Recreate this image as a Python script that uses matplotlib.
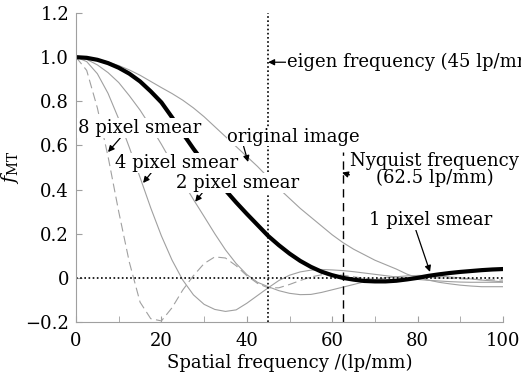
import matplotlib
matplotlib.use("Agg")
import matplotlib.pyplot as plt
from matplotlib.ticker import MultipleLocator

plt.rcParams['font.family'] = ['DejaVu Serif']
plt.rcParams['mathtext.fontset'] = 'dejavuserif'

# spatial frequency grid (lp/mm), 2.5 lp/mm steps
freq = [0, 2.5, 5, 7.5, 10, 12.5, 15, 17.5, 20, 22.5, 25, 27.5, 30, 32.5, 35, 37.5,
        40, 42.5, 45, 47.5, 50, 52.5, 55, 57.5, 60, 62.5, 65, 67.5, 70, 72.5, 75,
        77.5, 80, 82.5, 85, 87.5, 90, 92.5, 95, 97.5, 100]

# MTF curves
mtf_original = [1.0, 0.998, 0.99, 0.978, 0.962, 0.942, 0.918, 0.89, 0.862, 0.835,
                0.805, 0.77, 0.73, 0.685, 0.64, 0.595, 0.55, 0.505, 0.455, 0.405,
                0.36, 0.315, 0.275, 0.235, 0.195, 0.16, 0.13, 0.105, 0.08, 0.06,
                0.04, 0.017, 0.0, -0.01, -0.02, -0.027, -0.033, -0.037, -0.04,
                -0.04, -0.04]
mtf_1px = [1.0, 0.997, 0.988, 0.973, 0.952, 0.925, 0.89, 0.845, 0.795, 0.727,
           0.655, 0.585, 0.52, 0.457, 0.397, 0.342, 0.29, 0.24, 0.19, 0.148,
           0.11, 0.077, 0.05, 0.028, 0.012, 0.0, -0.008, -0.014, -0.016, -0.016,
           -0.013, -0.007, 0.0, 0.009, 0.016, 0.022, 0.027, 0.031, 0.035, 0.038,
           0.04]
mtf_2px = [1.0, 0.99, 0.965, 0.93, 0.885, 0.825, 0.76, 0.685, 0.605, 0.52, 0.435,
           0.355, 0.278, 0.2, 0.127, 0.065, 0.015, -0.02, -0.04, -0.058, -0.07,
           -0.076, -0.075, -0.066, -0.054, -0.042, -0.03, -0.018, -0.008, 0.0,
           0.005, 0.009, 0.011, 0.011, 0.008, 0.004, 0.0, -0.005, -0.01, -0.014,
           -0.018]
mtf_4px = [1.0, 0.98, 0.925, 0.836, 0.72, 0.59, 0.455, 0.317, 0.19, 0.08, -0.01,
           -0.077, -0.12, -0.143, -0.152, -0.145, -0.115, -0.08, -0.045, -0.012,
           0.012, 0.027, 0.035, 0.038, 0.036, 0.033, 0.028, 0.022, 0.016, 0.01,
           0.004, -0.002, -0.007, -0.011, -0.014, -0.017, -0.019, -0.02, -0.02,
           -0.02, -0.02]
mtf_8px = [1.0, 0.94, 0.77, 0.55, 0.3, 0.07, -0.11, -0.185, -0.195, -0.135,
           -0.055, 0.01, 0.065, 0.095, 0.09, 0.055, 0.01, -0.025, -0.045, -0.045,
           -0.03, -0.012, 0.004, 0.014, 0.016, 0.012, 0.005, -0.002, -0.007,
           -0.01, -0.01, -0.007, -0.003, 0.0, 0.0, -0.002, -0.004, -0.006, -0.008,
           -0.009, -0.01]

eigen_freq = 45
nyquist_freq = 62.5

fig = plt.figure(figsize=(5.21, 3.75), dpi=100)
ax = fig.add_axes([0.1459, 0.1413, 0.8196, 0.824])

gray = '#a0a0a0'
ax.plot(freq, mtf_original, color=gray, lw=0.8)
ax.plot(freq, mtf_2px, color=gray, lw=0.8)
ax.plot(freq, mtf_4px, color=gray, lw=0.8)
ax.plot(freq, mtf_8px, color=gray, lw=0.8, dashes=(8, 4))
ax.plot(freq, mtf_1px, color='black', lw=3)

ax.axhline(0, color='black', lw=1.2, ls=(0, (1, 1.5)))
ax.axvline(eigen_freq, color='black', lw=1.2, ls=(0, (1, 1.5)))
ax.plot([nyquist_freq, nyquist_freq], [-0.2, 0.57], color='black', lw=1.0, dashes=(6, 4))

ax.set_xlim(0, 100)
ax.set_ylim(-0.2, 1.2)
ax.xaxis.set_major_locator(MultipleLocator(20))
ax.xaxis.set_minor_locator(MultipleLocator(10))
ax.set_yticks([-0.2, 0, 0.2, 0.4, 0.6, 0.8, 1.0, 1.2])
ax.set_yticklabels(['\u22120.2', '0', '0.2', '0.4', '0.6', '0.8', '1.0', '1.2'])
ax.tick_params(which='both', direction='in', color=gray, labelsize=13, length=4)
ax.tick_params(axis='x', pad=7)
ax.tick_params(axis='y', pad=5)
for s in ['top', 'right']:
    ax.spines[s].set_visible(False)
for s in ['left', 'bottom']:
    ax.spines[s].set_color(gray)

ax.set_xlabel('Spatial frequency /(lp/mm)', fontsize=13, labelpad=3)
ax.set_ylabel(r'$f_{\rm MT}$', fontsize=14)
ax.yaxis.set_label_coords(-0.128, 0.5)

box = dict(facecolor='white', edgecolor='none', pad=0.5)
arrow = dict(arrowstyle='-|>', color='black', lw=0.9, mutation_scale=9, shrinkA=0, shrinkB=0)

ax.annotate('eigen frequency (45 lp/mm)', xy=(45, 0.977), xytext=(49.3, 0.977),
            fontsize=13, va='center', ha='left', bbox=box, arrowprops=arrow,
            annotation_clip=False)
ax.annotate('original image', xy=(40.3, 0.525), xytext=(51, 0.64),
            fontsize=13, va='center', ha='center', bbox=box,
            arrowprops=dict(arrow, relpos=(0.12, 0.0)))
ax.annotate('8 pixel smear', xy=(7.5, 0.57), xytext=(0.5, 0.68),
            fontsize=13, va='center', ha='left', bbox=box,
            arrowprops=dict(arrow, relpos=(0.35, 0.0)))
ax.annotate('4 pixel smear', xy=(15.7, 0.43), xytext=(9.1, 0.52),
            fontsize=13, va='center', ha='left', bbox=box,
            arrowprops=dict(arrow, relpos=(0.3, 0.0)))
ax.annotate('2 pixel smear', xy=(27.9, 0.345), xytext=(23.4, 0.43),
            fontsize=13, va='center', ha='left', bbox=box,
            arrowprops=dict(arrow, relpos=(0.22, 0.0)))
ax.annotate('Nyquist frequency\n(62.5 lp/mm)', xy=(62.3, 0.477), xytext=(84, 0.49),
            fontsize=13, va='center', ha='center', linespacing=0.95, bbox=box,
            arrowprops=dict(arrow, relpos=(0.0, 0.35)), annotation_clip=False)
ax.annotate('1 pixel smear', xy=(82.9, 0.027), xytext=(83, 0.26),
            fontsize=13, va='center', ha='center', bbox=box,
            arrowprops=dict(arrow, relpos=(0.38, 0.0)))

fig.savefig('out.png', dpi=100)
